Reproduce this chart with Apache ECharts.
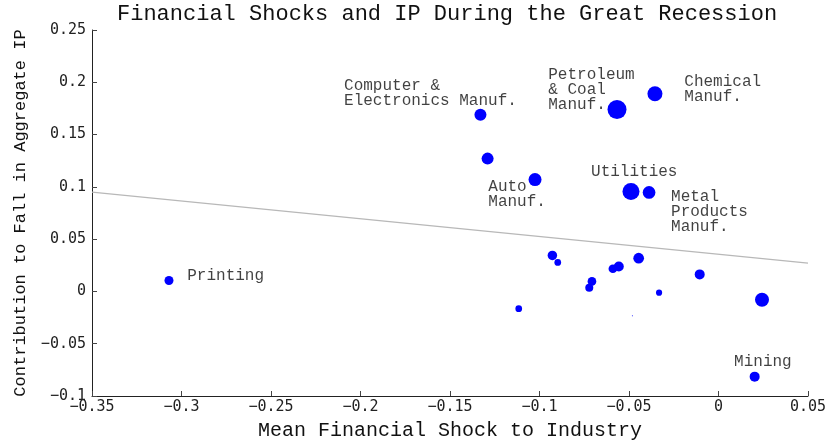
<!DOCTYPE html>
<html>
<head>
<meta charset="utf-8">
<script src="https://cdn.jsdelivr.net/npm/echarts@6/dist/echarts.min.js"></script>
<style>
  html, body { margin: 0; padding: 0; background: #fff; }
  #chart { width: 830px; height: 442px; }
</style>
</head>
<body>
<div id="chart"></div>
<script>
// one entry per industry: mean financial shock, contribution to fall in IP, weight (share of IP, %)
const shock = [
  -0.307, -0.133, -0.129, -0.1025, -0.0567, -0.0355, -0.0489, -0.0388,
  -0.0928, -0.0898, -0.1116, -0.0722, -0.0707, -0.059, -0.0557, -0.0446,
  -0.0332, -0.0105, 0.0243, 0.0202, -0.0481
];
const contribution = [
  0.0105, 0.169, 0.127, 0.107, 0.174, 0.189, 0.0956, 0.0947,
  0.0344, 0.0277, -0.0165, 0.0035, 0.0096, 0.0217, 0.0239, 0.0318,
  -0.0012, 0.0163, -0.008, -0.0815, -0.0232
];
const weight = [
  1.65, 2.94, 2.94, 3.45, 7.37, 4.59, 5.9, 3.29,
  1.84, 0.92, 0.92, 1.31, 1.54, 1.54, 2.04, 2.34,
  0.78, 2.04, 4.0, 2.04, 0.02
];

// fitted line, read at the two ends of the x range
const fitX = [-0.35, 0.05];
const fitY = [0.095, 0.027];

// text annotations (top-left corner of each block, in data units)
const noteText = [
  'Computer &\nElectronics Manuf.',
  'Petroleum\n& Coal\nManuf.',
  'Chemical\nManuf.',
  'Utilities',
  'Metal\nProducts\nManuf.',
  'Auto\nManuf.',
  'Printing',
  'Mining'
];
const noteX = [-0.2092, -0.0951, -0.0191, -0.0712, -0.0265, -0.1286, -0.2968, 0.0087];
const noteY = [0.2036, 0.2146, 0.2073, 0.1212, 0.098, 0.1076, 0.0225, -0.0604];

const courier = "'Courier New', 'Liberation Mono', monospace";
const sansMono = "'DejaVu Sans Mono', monospace";

function fmtTick(v) {
  const s = String(Math.round(v * 100) / 100);
  return s.replace('-', '\u2212');
}

const chart = echarts.init(document.getElementById('chart'));

chart.setOption({
  animation: false,
  backgroundColor: '#fff',
  title: {
    text: 'Financial Shocks and IP During the Great Recession',
    left: 117,
    top: 3,
    padding: 0,
    textStyle: {
      fontFamily: courier,
      fontWeight: 'normal',
      fontSize: 22,
      color: '#111'
    }
  },
  grid: {
    left: 92,
    right: 22,
    top: 30,
    bottom: 46,
    outerBoundsMode: 'none'
  },
  xAxis: {
    type: 'value',
    min: -0.35,
    max: 0.05,
    interval: 0.05,
    name: 'Mean Financial Shock to Industry',
    nameLocation: 'middle',
    nameGap: 25,
    nameTextStyle: { fontFamily: courier, fontSize: 20, color: '#111' },
    axisLine: { onZero: false, lineStyle: { color: '#222', width: 1 } },
    axisTick: { inside: true, length: 5, lineStyle: { color: '#444' } },
    axisLabel: {
      fontFamily: sansMono,
      fontSize: 15,
      color: '#222',
      margin: 4,
      showMinLabel: true,
      showMaxLabel: true,
      formatter: fmtTick
    },
    splitLine: { show: false }
  },
  yAxis: {
    type: 'value',
    min: -0.1,
    max: 0.25,
    interval: 0.05,
    name: 'Contribution to Fall in Aggregate IP',
    nameLocation: 'middle',
    nameGap: 63,
    nameTextStyle: { fontFamily: courier, fontSize: 17, color: '#111' },
    axisLine: { show: true, onZero: false, lineStyle: { color: '#222', width: 1 } },
    axisTick: { show: true, inside: true, length: 5, lineStyle: { color: '#444' } },
    axisLabel: {
      fontFamily: sansMono,
      fontSize: 15,
      color: '#222',
      margin: 6,
      showMinLabel: true,
      showMaxLabel: true,
      formatter: fmtTick
    },
    splitLine: { show: false }
  },
  series: [
    {
      type: 'line',
      data: fitX.map((x, i) => [x, fitY[i]]),
      symbol: 'none',
      lineStyle: { color: '#b8b8b8', width: 1.3 },
      silent: true,
      z: 1
    },
    {
      type: 'scatter',
      data: shock.map((x, i) => [x, contribution[i], weight[i]]),
      symbolSize: function (v) {
        return Math.max(1, 7 * Math.sqrt(v[2]));
      },
      itemStyle: { color: '#0000ff', opacity: 1 },
      z: 3
    },
    {
      type: 'scatter',
      data: noteX.map((x, i) => [x, noteY[i], noteText[i]]),
      symbolSize: 0,
      silent: true,
      label: {
        show: true,
        position: [0, 0],
        align: 'left',
        verticalAlign: 'top',
        fontFamily: courier,
        fontSize: 16,
        lineHeight: 15,
        color: '#111',
        formatter: p => p.value[2]
      },
      z: 4
    }
  ]
});
</script>
</body>
</html>
